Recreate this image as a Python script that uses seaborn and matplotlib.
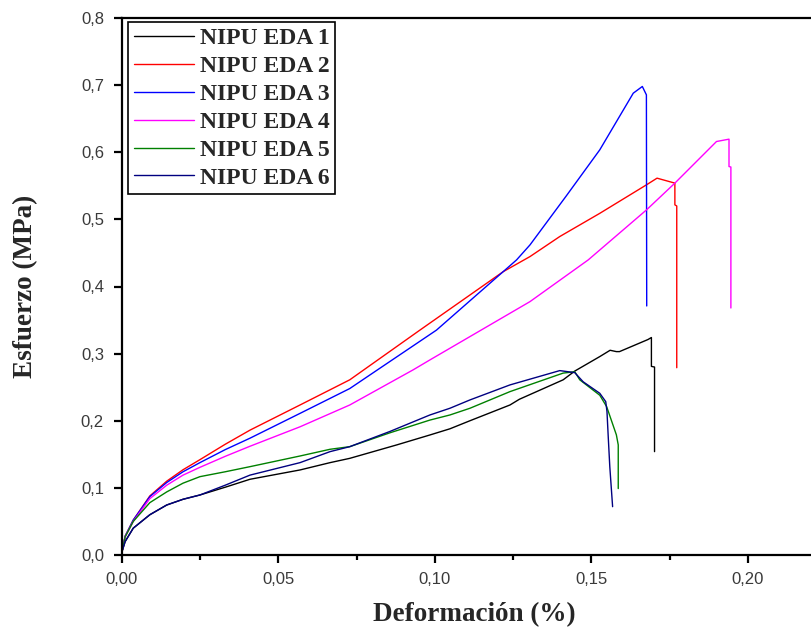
import numpy as np
import pandas as pd
import matplotlib
matplotlib.use("Agg")
import matplotlib.pyplot as plt
from matplotlib.ticker import FuncFormatter, MultipleLocator
import seaborn as sns

# ---------------- data ----------------
series_names = ["NIPU EDA 1", "NIPU EDA 2", "NIPU EDA 3", "NIPU EDA 4", "NIPU EDA 5", "NIPU EDA 6"]
series_colors = ["#000000", "#FF0000", "#0000FF", "#FF00FF", "#008000", "#000080"]

eda1_x = [0, 0.001, 0.0036, 0.0089, 0.0143, 0.0195, 0.0249, 0.033, 0.0409, 0.0569, 0.0665, 0.0728,
          0.0878, 0.0984, 0.1048, 0.1112, 0.124, 0.127, 0.141, 0.1447, 0.1527, 0.156, 0.158, 0.159,
          0.1681, 0.1692, 0.1692, 0.1702, 0.1702]
eda1_y = [0.005, 0.02, 0.040, 0.060, 0.0745, 0.083, 0.0894, 0.101, 0.1128, 0.1267, 0.1376, 0.144,
          0.164, 0.1788, 0.188, 0.200, 0.2235, 0.232, 0.261, 0.274, 0.2956, 0.305, 0.303, 0.303,
          0.321, 0.324, 0.281, 0.280, 0.154]

eda2_x = [0, 0.001, 0.0036, 0.0089, 0.0143, 0.0195, 0.0249, 0.033, 0.0409, 0.0569, 0.0728, 0.0952,
          0.1218, 0.1304, 0.1399, 0.1527, 0.1676, 0.171, 0.1767, 0.1767, 0.1773, 0.1773]
eda2_y = [0.005, 0.028, 0.052, 0.088, 0.110, 0.127, 0.142, 0.165, 0.186, 0.2235, 0.261, 0.335,
          0.422, 0.4446, 0.4744, 0.509, 0.5514, 0.5614, 0.554, 0.5216, 0.52, 0.279]

eda3_x = [0, 0.001, 0.0036, 0.0089, 0.0143, 0.0195, 0.0249, 0.033, 0.0409, 0.0569, 0.0728, 0.0819,
          0.1005, 0.1218, 0.1261, 0.1304, 0.142, 0.1527, 0.1634, 0.1663, 0.1676, 0.1677]
eda3_y = [0.005, 0.028, 0.052, 0.087, 0.108, 0.124, 0.1376, 0.157, 0.174, 0.211, 0.248, 0.2766,
          0.335, 0.422, 0.4396, 0.462, 0.535, 0.6036, 0.688, 0.698, 0.6855, 0.371]

eda4_x = [0, 0.001, 0.0036, 0.0089, 0.0143, 0.0195, 0.0249, 0.033, 0.0409, 0.0569, 0.0728, 0.093,
          0.0984, 0.1304, 0.149, 0.1676, 0.1767, 0.19, 0.194, 0.194, 0.1946, 0.1946]
eda4_y = [0.005, 0.027, 0.050, 0.084, 0.104, 0.119, 0.1306, 0.147, 0.162, 0.191, 0.2235, 0.2757,
          0.2906, 0.3775, 0.4396, 0.514, 0.554, 0.616, 0.6195, 0.5787, 0.578, 0.368]

eda5_x = [0, 0.001, 0.0036, 0.0089, 0.0143, 0.0195, 0.0249, 0.033, 0.0409, 0.0569, 0.0665, 0.0728,
          0.0856, 0.0984, 0.1048, 0.1112, 0.124, 0.141, 0.1447, 0.1463, 0.1527, 0.1549, 0.158,
          0.1586, 0.1586]
eda5_y = [0.005, 0.027, 0.050, 0.078, 0.094, 0.107, 0.1167, 0.124, 0.1316, 0.1475, 0.1575, 0.1614,
          0.182, 0.201, 0.2086, 0.2186, 0.2434, 0.271, 0.273, 0.261, 0.238, 0.221, 0.179,
          0.164, 0.099]

eda6_x = [0, 0.001, 0.0036, 0.0089, 0.0143, 0.0195, 0.0249, 0.033, 0.0409, 0.0569, 0.0665, 0.0728,
          0.0856, 0.0984, 0.1048, 0.1112, 0.124, 0.1399, 0.1447, 0.1474, 0.1527, 0.1546, 0.155,
          0.1554, 0.1559, 0.1568]
eda6_y = [0.005, 0.02, 0.040, 0.060, 0.0745, 0.083, 0.0894, 0.104, 0.119, 0.1376, 0.154, 0.1614,
          0.184, 0.2086, 0.2186, 0.231, 0.2534, 0.2747, 0.2717, 0.258, 0.2409, 0.2285, 0.2136,
          0.1763, 0.1316, 0.072]

x_ticks = [0.00, 0.05, 0.10, 0.15, 0.20]
y_ticks = [0.0, 0.1, 0.2, 0.3, 0.4, 0.5, 0.6, 0.7, 0.8]
x_label = "Deformación (%)"
y_label = "Esfuerzo (MPa)"

# ---------------- build a long table ----------------
xs = [eda1_x, eda2_x, eda3_x, eda4_x, eda5_x, eda6_x]
ys = [eda1_y, eda2_y, eda3_y, eda4_y, eda5_y, eda6_y]
frames = []
for name, x, y in zip(series_names, xs, ys):
    frames.append(pd.DataFrame({"x": x, "y": y, "serie": name}))
df = pd.concat(frames, ignore_index=True)

# ---------------- style ----------------
sns.set_style("ticks")
plt.rcParams["font.family"] = ["Liberation Sans", "DejaVu Sans"]

fig = plt.figure(figsize=(8.12, 6.35), dpi=100)
ax = fig.add_axes([122 / 812, 80 / 635, 704 / 812, 537 / 635])

sns.lineplot(data=df, x="x", y="y", hue="serie", hue_order=series_names,
             palette=dict(zip(series_names, series_colors)), sort=False,
             estimator=None, units="serie", linewidth=1.0, ax=ax, legend=True)

ax.set_xlim(0, 0.225)
ax.set_ylim(0, 0.8)
ax.set_xticks(x_ticks)
ax.set_yticks(y_ticks)
ax.xaxis.set_minor_locator(MultipleLocator(0.025))
ax.xaxis.set_major_formatter(FuncFormatter(lambda v, p: f"{v:.2f}".replace(".", ",")))
ax.yaxis.set_major_formatter(FuncFormatter(lambda v, p: f"{v:.1f}".replace(".", ",")))

for side in ["left", "bottom", "top"]:
    ax.spines[side].set_linewidth(1.6)
    ax.spines[side].set_color("black")
ax.spines["right"].set_visible(False)

ax.tick_params(axis="both", which="major", direction="out", length=6, width=1.6,
               labelsize=12, labelcolor="#3a3a3a", color="black")
ax.tick_params(axis="x", which="major", pad=6)
ax.tick_params(axis="y", which="major", pad=7)
ax.tick_params(axis="x", which="minor", direction="out", length=3.5, width=1.6, color="black")
ax.tick_params(axis="y", which="minor", length=0)

serif_bold = dict(family=["Liberation Serif", "DejaVu Serif"], weight="bold", size=19.5)
ax.set_xlabel(x_label, fontdict=serif_bold)
ax.set_ylabel(y_label, fontdict=serif_bold)
ax.xaxis.set_label_coords(0.5, -0.087)
ax.yaxis.set_label_coords(-0.119, 0.5)

handles, labels = ax.get_legend_handles_labels()
leg = ax.legend(handles, labels, loc="upper left", bbox_to_anchor=(6 / 704, 1 - 4 / 537),
                borderaxespad=0, frameon=True, fancybox=False, framealpha=1,
                edgecolor="black", handlelength=2.55, handletextpad=0.26,
                labelspacing=0.27, borderpad=0.24,
                prop=dict(family=["Liberation Serif", "DejaVu Serif"], weight="bold", size=17))
leg.get_frame().set_linewidth(1.2)
for h in leg.legend_handles:
    h.set_linewidth(1.0)

fig.savefig("out.png", dpi=100)
